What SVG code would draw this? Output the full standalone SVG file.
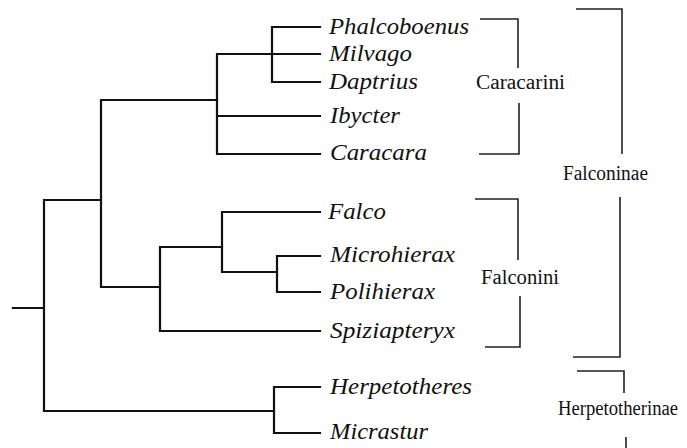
<svg xmlns="http://www.w3.org/2000/svg" width="687" height="448" viewBox="0 0 687 448">
<style>
.tree{fill:none;stroke:#111;stroke-width:2.2;stroke-linecap:square}
.br{fill:none;stroke:#222;stroke-width:1.6}
.tx{font-family:"Liberation Serif","DejaVu Serif",serif;font-style:italic;font-size:23px;fill:#111}
.gl{font-family:"Liberation Serif","DejaVu Serif",serif;font-size:20px;fill:#111}
</style>
<rect width="687" height="448" fill="#fff"/>
<g id="connectors">
<path class="tree" d="M13,308H44M44,200V411M44,200H101M44,411H274"/>
<path class="tree" d="M101,100V287M101,100H217M101,287H160"/>
<path class="tree" d="M217,54V154M217,54H320M217,116H320M217,154H320"/>
<path class="tree" d="M272,27V82M272,27H320M272,82H320"/>
<path class="tree" d="M160,247V331M160,247H222M160,331H320"/>
<path class="tree" d="M222,212V272M222,212H320M222,272H277"/>
<path class="tree" d="M277,256V292M277,256H320M277,292H320"/>
<path class="tree" d="M274,387V433M274,387H320M274,433H320"/>
</g>
<g id="Phalcoboenus"><text class="tx" x="329" y="34" textLength="140" lengthAdjust="spacingAndGlyphs">Phalcoboenus</text></g>
<g id="Milvago"><text class="tx" x="329" y="61" textLength="83" lengthAdjust="spacingAndGlyphs">Milvago</text></g>
<g id="Daptrius"><text class="tx" x="329" y="89" textLength="89" lengthAdjust="spacingAndGlyphs">Daptrius</text></g>
<g id="Ibycter"><text class="tx" x="330" y="123" textLength="70" lengthAdjust="spacingAndGlyphs">Ibycter</text></g>
<g id="Caracara"><text class="tx" x="330" y="160" textLength="97" lengthAdjust="spacingAndGlyphs">Caracara</text></g>
<g id="Falco"><text class="tx" x="328" y="219" textLength="58" lengthAdjust="spacingAndGlyphs">Falco</text></g>
<g id="Microhierax"><text class="tx" x="330" y="262" textLength="125" lengthAdjust="spacingAndGlyphs">Microhierax</text></g>
<g id="Polihierax"><text class="tx" x="330" y="299" textLength="105" lengthAdjust="spacingAndGlyphs">Polihierax</text></g>
<g id="Spiziapteryx"><text class="tx" x="330" y="338" textLength="125" lengthAdjust="spacingAndGlyphs">Spiziapteryx</text></g>
<g id="Herpetotheres"><text class="tx" x="330" y="394" textLength="142" lengthAdjust="spacingAndGlyphs">Herpetotheres</text></g>
<g id="Micrastur"><text class="tx" x="330" y="439" textLength="98" lengthAdjust="spacingAndGlyphs">Micrastur</text></g>
<g id="Caracarini">
<path class="br" d="M480,19H518V68M519,103V154H479"/>
<text class="gl" x="476" y="89" textLength="89" lengthAdjust="spacingAndGlyphs">Caracarini</text>
</g>
<g id="Falconini">
<path class="br" d="M475,199H518V260M520,296V347H485"/>
<text class="gl" x="481" y="284" textLength="78" lengthAdjust="spacingAndGlyphs">Falconini</text>
</g>
<g id="Falconinae">
<path class="br" d="M576,9H622V154M620,197V357H573"/>
<text class="gl" x="563" y="180" textLength="85" lengthAdjust="spacingAndGlyphs">Falconinae</text>
</g>
<g id="Herpetotherinae">
<path class="br" d="M577,371H624V393M626,437V448"/>
<text class="gl" x="558" y="415" textLength="120" lengthAdjust="spacingAndGlyphs">Herpetotherinae</text>
</g>
</svg>
